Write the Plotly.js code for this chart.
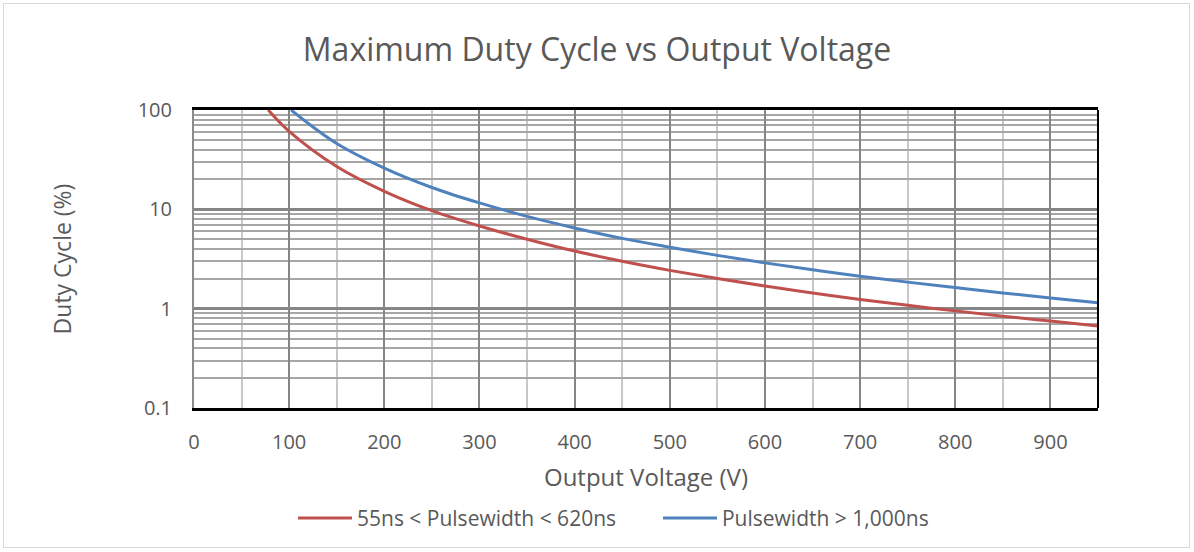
<!DOCTYPE html>
<html><head><meta charset="utf-8">
<script src="https://cdn.plot.ly/plotly-3.0.1.min.js"></script>
<style>
html,body{margin:0;padding:0;background:#fff;}
#frame{position:absolute;left:3px;top:3px;width:1187px;height:545px;border:1px solid #d9d9d9;box-sizing:border-box;}
#chart{position:absolute;left:0;top:0;width:1194px;height:552px;}
</style></head>
<body>
<div id="frame"></div>
<div id="chart"></div>
<script>
const redName = "55ns < Pulsewidth < 620ns";
const blueName = "Pulsewidth > 1,000ns";
const redX = [78, 100, 150, 200, 250, 300, 350, 400, 450, 500, 550, 600, 650, 700, 750, 800, 850, 900, 950];
const redY = [100, 61, 27, 15.2, 9.7, 6.8, 5.0, 3.8, 3.0, 2.43, 2.01, 1.69, 1.44, 1.24, 1.08, 0.95, 0.84, 0.75, 0.67];
const blueX = [102, 150, 200, 250, 300, 350, 400, 450, 500, 550, 600, 650, 700, 750, 800, 850, 900, 950];
const blueY = [100, 46, 26, 16.6, 11.6, 8.5, 6.5, 5.1, 4.16, 3.44, 2.89, 2.46, 2.12, 1.85, 1.63, 1.44, 1.28, 1.15];
const yTickVals = [0.1, 1, 10, 100];
const yTickText = ["0.1", "1", "10", "100"];
const xTickVals = [0, 100, 200, 300, 400, 500, 600, 700, 800, 900];
const xTickText = ["0", "100", "200", "300", "400", "500", "600", "700", "800", "900"];

const font = {family: "Open Sans, Lato, sans-serif", color: "#595959"};
const traces = [
  {x: redX, y: redY, name: redName, mode: "lines", line: {color: "#C0504D", width: 3, shape: "spline"}},
  {x: blueX, y: blueY, name: blueName, mode: "lines", line: {color: "#4F81BD", width: 3, shape: "spline"}}
];
const layout = {
  width: 1194, height: 552,
  paper_bgcolor: "rgba(0,0,0,0)", plot_bgcolor: "#fff",
  margin: {l: 194, r: 96, t: 110, b: 144},
  font: Object.assign({size: 20}, font),
  title: {text: "Maximum Duty Cycle vs Output Voltage", font: Object.assign({size: 32}, font), x: 0.5, xanchor: "center", y: 0.91, yanchor: "middle"},
  showlegend: true,
  legend: {orientation: "h", x: 0.1095, xanchor: "left", y: -0.37, yanchor: "middle", font: Object.assign({size: 21}, font), itemwidth: 54, entrywidth: 296, entrywidthmode: "pixels", traceorder: "normal"},
  xaxis: {
    range: [0, 950], tickvals: xTickVals, ticktext: xTickText,
    showgrid: true, gridcolor: "#868686", gridwidth: 2,
    minor: {dtick: 50, showgrid: true, gridcolor: "#c8c8c8", gridwidth: 2},
    showline: true, linecolor: "#000", linewidth: 3, mirror: true,
    ticks: "", ticklabelstandoff: 14, zeroline: false,
    tickfont: Object.assign({size: 20}, font),
    title: {text: "Output Voltage (V)", font: Object.assign({size: 24}, font), standoff: 16}
  },
  yaxis: {
    type: "log", range: [-1, 2], tickvals: yTickVals, ticktext: yTickText,
    showgrid: true, gridcolor: "#868686", gridwidth: 3,
    minor: {tickvals: [0.2,0.3,0.4,0.5,0.6,0.7,0.8,0.9,2,3,4,5,6,7,8,9,20,30,40,50,60,70,80,90], showgrid: true, gridcolor: "#a6a6a6", gridwidth: 2},
    showline: true, linecolor: "#8c8c8c", linewidth: 2,
    ticks: "", ticklabelstandoff: 16, zeroline: false,
    tickfont: Object.assign({size: 20}, font),
    title: {text: "Duty Cycle (%)", font: Object.assign({size: 23}, font), standoff: 60}
  },
  shapes: [
    {type: "line", xref: "x domain", yref: "y domain", x0: 1, x1: 1, y0: 0, y1: 1, line: {color: "#000", width: 2}}
  ]
};
Plotly.newPlot("chart", traces, layout, {staticPlot: true});
</script>
</body></html>
